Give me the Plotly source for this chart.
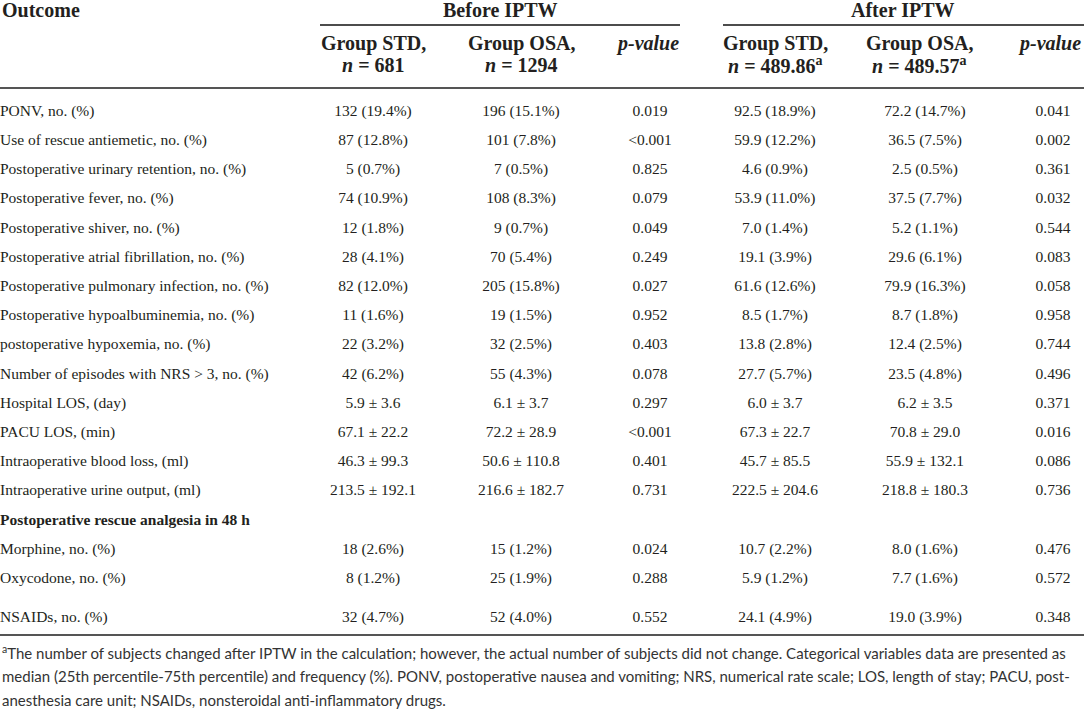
import plotly.graph_objects as go

# table content
outcomes = [
    "PONV, no. (%)",
    "Use of rescue antiemetic, no. (%)",
    "Postoperative urinary retention, no. (%)",
    "Postoperative fever, no. (%)",
    "Postoperative shiver, no. (%)",
    "Postoperative atrial fibrillation, no. (%)",
    "Postoperative pulmonary infection, no. (%)",
    "Postoperative hypoalbuminemia, no. (%)",
    "postoperative hypoxemia, no. (%)",
    "Number of episodes with NRS > 3, no. (%)",
    "Hospital LOS, (day)",
    "PACU LOS, (min)",
    "Intraoperative blood loss, (ml)",
    "Intraoperative urine output, (ml)",
    "Postoperative rescue analgesia in 48 h",
    "Morphine, no. (%)",
    "Oxycodone, no. (%)",
    "NSAIDs, no. (%)",
]
section_rows = ["Postoperative rescue analgesia in 48 h"]

before_std = ["132 (19.4%)", "87 (12.8%)", "5 (0.7%)", "74 (10.9%)", "12 (1.8%)",
              "28 (4.1%)", "82 (12.0%)", "11 (1.6%)", "22 (3.2%)", "42 (6.2%)",
              "5.9 ± 3.6", "67.1 ± 22.2", "46.3 ± 99.3", "213.5 ± 192.1", "",
              "18 (2.6%)", "8 (1.2%)", "32 (4.7%)"]
before_osa = ["196 (15.1%)", "101 (7.8%)", "7 (0.5%)", "108 (8.3%)", "9 (0.7%)",
              "70 (5.4%)", "205 (15.8%)", "19 (1.5%)", "32 (2.5%)", "55 (4.3%)",
              "6.1 ± 3.7", "72.2 ± 28.9", "50.6 ± 110.8", "216.6 ± 182.7", "",
              "15 (1.2%)", "25 (1.9%)", "52 (4.0%)"]
before_p = ["0.019", "<0.001", "0.825", "0.079", "0.049", "0.249", "0.027", "0.952",
            "0.403", "0.078", "0.297", "<0.001", "0.401", "0.731", "",
            "0.024", "0.288", "0.552"]
after_std = ["92.5 (18.9%)", "59.9 (12.2%)", "4.6 (0.9%)", "53.9 (11.0%)", "7.0 (1.4%)",
             "19.1 (3.9%)", "61.6 (12.6%)", "8.5 (1.7%)", "13.8 (2.8%)", "27.7 (5.7%)",
             "6.0 ± 3.7", "67.3 ± 22.7", "45.7 ± 85.5", "222.5 ± 204.6", "",
             "10.7 (2.2%)", "5.9 (1.2%)", "24.1 (4.9%)"]
after_osa = ["72.2 (14.7%)", "36.5 (7.5%)", "2.5 (0.5%)", "37.5 (7.7%)", "5.2 (1.1%)",
             "29.6 (6.1%)", "79.9 (16.3%)", "8.7 (1.8%)", "12.4 (2.5%)", "23.5 (4.8%)",
             "6.2 ± 3.5", "70.8 ± 29.0", "55.9 ± 132.1", "218.8 ± 180.3", "",
             "8.0 (1.6%)", "7.7 (1.6%)", "19.0 (3.9%)"]
after_p = ["0.041", "0.002", "0.361", "0.032", "0.544", "0.083", "0.058", "0.958",
           "0.744", "0.496", "0.371", "0.016", "0.086", "0.736", "",
           "0.476", "0.572", "0.348"]

group_names = ["Before IPTW", "After IPTW"]
col_names = ["Group STD,", "Group OSA,"]
group_n = [["681", "1294"], ["489.86<sup>a</sup>", "489.57<sup>a</sup>"]]

footnote = [
    "<sup>a</sup>The number of subjects changed after IPTW in the calculation; however, the actual number of subjects did not change. Categorical variables data are presented as",
    "median (25th percentile-75th percentile) and frequency (%). PONV, postoperative nausea and vomiting; NRS, numerical rate scale; LOS, length of stay; PACU, post-",
    "anesthesia care unit; NSAIDs, nonsteroidal anti-inflammatory drugs.",
]

# layout: axis units are page pixels
W, H = 1084, 710
SERIF = "Liberation Serif, Times New Roman, serif"
INK = "#231f20"
body_size = 15.5
head_size = 20

first_row, row_step, last_gap = 112, 29.2, 39
row_y = [first_row + i * row_step for i in range(len(outcomes))]
row_y[-1] = row_y[-2] + last_gap

col_x = {"bstd": 373, "bosa": 521, "bp": 650, "astd": 775, "aosa": 925, "ap": 1053}

fig = go.Figure()

# row labels
labels = [f"<b>{o}</b>" if o in section_rows else o for o in outcomes]
fig.add_trace(go.Scatter(
    x=[0] * len(outcomes), y=row_y, text=labels, mode="text",
    textposition="middle right", cliponaxis=False, hoverinfo="skip",
    textfont=dict(family=SERIF, size=body_size, color=INK)))

for key, vals in [("bstd", before_std), ("bosa", before_osa), ("bp", before_p),
                  ("astd", after_std), ("aosa", after_osa), ("ap", after_p)]:
    keep = [i for i, v in enumerate(vals) if v]
    fig.add_trace(go.Scatter(
        x=[col_x[key]] * len(keep), y=[row_y[i] for i in keep],
        text=[vals[i] for i in keep], mode="text",
        textposition="middle center", cliponaxis=False, hoverinfo="skip",
        textfont=dict(family=SERIF, size=body_size, color=INK)))

head_font = dict(family=SERIF, size=head_size, color=INK)

def head(x, y, text, anchor="center"):
    fig.add_annotation(x=x, y=y, text=text, showarrow=False, xanchor=anchor,
                       yanchor="middle", font=head_font)

head(0, 10, "<b>Outcome</b>", "left")
head(500, 10, f"<b>{group_names[0]}</b>", "center")
head(903, 10, f"<b>{group_names[1]}</b>", "center")

for g, (xs, xo) in enumerate([(col_x["bstd"], col_x["bosa"]), (col_x["astd"], col_x["aosa"] - 6)]):
    for cx, name, n in zip([xs, xo], col_names, group_n[g]):
        head(cx, 43, f"<b>{name}</b>")
        head(cx, 65, f"<b><i>n</i> = {n}</b>")
head(681, 43, "<b><i>p-value</i></b>", "right")
head(1083, 43, "<b><i>p-value</i></b>", "right")

# rules
fig.add_shape(type="line", x0=320, x1=680, y0=25, y1=25, line=dict(color="#111", width=1.5))
fig.add_shape(type="line", x0=723, x1=W, y0=25, y1=25, line=dict(color="#111", width=1.5))
fig.add_shape(type="line", x0=0, x1=W, y0=88, y1=88, line=dict(color="#555", width=2))
fig.add_shape(type="line", x0=0, x1=W, y0=635, y1=635, line=dict(color="#555", width=2))

for i, line in enumerate(footnote):
    fig.add_annotation(x=0, y=652 + i * 24, text=line, showarrow=False,
                       xanchor="left", yanchor="middle",
                       font=dict(family="Lato, Open Sans, sans-serif", size=15, color="#333"))

fig.update_layout(
    width=W, height=H,
    margin=dict(l=0, r=0, t=0, b=0),
    paper_bgcolor="white", plot_bgcolor="white",
    showlegend=False,
    xaxis=dict(range=[0, W], visible=False, fixedrange=True),
    yaxis=dict(range=[H, 0], visible=False, fixedrange=True),
)

# drop the default page margin so the figure sits at the window's top-left corner
fig.write_html("out.html", config={"displayModeBar": False},
               post_script="document.body.style.margin = '0px';")
